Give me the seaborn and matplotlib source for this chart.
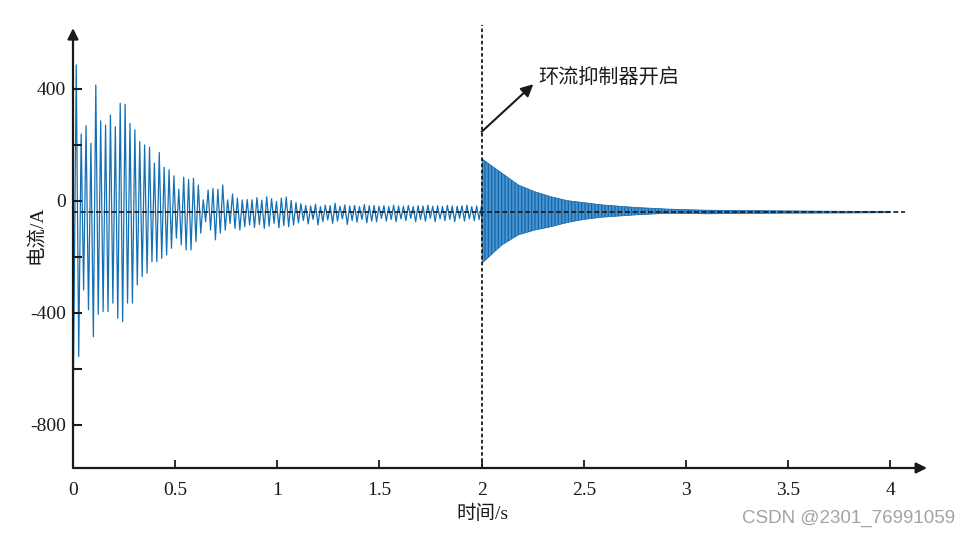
import numpy as np
import pandas as pd
import matplotlib
matplotlib.use('Agg')
import matplotlib.pyplot as plt
import seaborn as sns

# ============================================================
# Data (current in A, time in s)
# ============================================================

# before the circulating-current suppressor is switched on (t < 2 s)
i_start = -790          # value at t = 0
t_first_peak = 0.016    # time of first positive peak
period_a = 0.0239       # peak-to-peak spacing of the oscillation

peaks_a = [486, 239, 269, 206, 414, 286, 271, 307, 265, 349, 345, 277, 254,
           212, 200, 192, 135, 173, 120, 111, 90, 42, 85, 77, 81, 57, 4, 39,
           45, 42, 57, 4, 25, 10, 4, 5, 4,
           12, 3, 15, 8, -2, 10, 14, 2, -6,
           -10, -16, -18, -12, -20, -15, -17, -8, -19, -14, -18, -16, -20, -13, -17,
           -16, -19, -17, -20, -15, -18, -19, -16, -20, -17, -18, -15, -19, -17,
           -20, -16, -18, -19, -17, -15, -20, -18, -16]
troughs_a = [-556, -318, -389, -485, -405, -395, -395, -365, -419, -431, -365,
             -365, -300, -270, -258, -217, -217, -205, -193, -169, -133, -157,
             -175, -175, -145, -115, -74, -104, -139, -115, -104, -80, -98,
             -104, -92, -86,
             -95, -84, -98, -90, -80, -96, -88, -92, -86, -78,
             -70, -82, -66, -86, -74, -68, -80, -72, -64, -84, -70, -76, -66, -78, -72,
             -74, -62, -72, -66, -74, -64, -70, -62, -74, -66, -72, -62, -74, -64,
             -70, -66, -74, -62, -72, -64, -70, -66]

# after switch-on (t >= 2 s): envelope of the dense high-frequency oscillation
env_t = [2.0, 2.003, 2.05, 2.1, 2.18, 2.26, 2.34, 2.42, 2.5, 2.59, 2.75, 2.91, 3.1, 3.4, 3.8, 4.0]
env_hi = [-40, 150, 125, 99, 57, 33, 15, 1, -6, -14, -23, -29, -33, -35, -37, -37]
env_lo = [-40, -222, -190, -157, -121, -104, -92, -77, -66, -58, -50, -44, -46, -44, -43, -42]

t_switch = 2.0
i_offset = -40          # horizontal reference line
t_ref_end = 4.07

xticks = [0, 0.5, 1, 1.5, 2, 2.5, 3, 3.5, 4]
yticks = [-800, -600, -400, -200, 0, 200, 400]
ytick_labels = ['-800', '', '-400', '', '0', '', '400']

# ============================================================
# Build the trace of the first segment
# ============================================================

n_pairs = len(troughs_a)
t_up = t_first_peak + period_a * np.arange(len(peaks_a))
t_dn = t_up[:n_pairs] + period_a / 2
t_a = np.concatenate([[0.0], np.ravel(np.column_stack([t_up[:n_pairs], t_dn])), t_up[n_pairs:]])
i_a = np.concatenate([[i_start], np.ravel(np.column_stack([peaks_a[:n_pairs], troughs_a])), peaks_a[n_pairs:]])
df_a = pd.DataFrame({'time': t_a, 'current': i_a})

# ============================================================
# Plot
# ============================================================

sns.set_theme(style='white')
plt.rcParams['font.family'] = ['Liberation Serif', 'Noto Sans CJK SC', 'DejaVu Sans']
plt.rcParams['axes.unicode_minus'] = False
plt.rcParams['axes.axisbelow'] = False
plt.rcParams['xtick.bottom'] = True
plt.rcParams['ytick.left'] = True
plt.rcParams['hatch.linewidth'] = 0.8

blue = '#1470b4'

fig = plt.figure(figsize=(9.7, 5.37), dpi=100)
ax = fig.add_axes([73 / 970, 69 / 537, 854 / 970, 443.4 / 537])
ax.set_axisbelow(False)

sns.lineplot(data=df_a, x='time', y='current', ax=ax, color=blue, lw=0.9,
             estimator=None, sort=False)
# dense oscillation after switch-on: band with vertical striations
ax.fill_between(env_t, env_lo, env_hi, facecolor='#4a93cf', edgecolor='#0c64a9',
                hatch='|' * 5, lw=0.5)

# reference lines
ax.plot([0, t_ref_end], [i_offset, i_offset], color='k', lw=1.2, ls=(0, (3, 1.6)), zorder=5)
ax.axvline(t_switch, color='k', lw=1.3, ls=(0, (2, 1.4)), zorder=5)

ax.set_xlim(0, 4.18)
ax.set_ylim(-954, 630)

for s in ax.spines.values():
    s.set_visible(False)
# axes drawn as arrows
arrow_kw = dict(arrowstyle='-|>', color='k', lw=1.6, mutation_scale=16, shrinkA=0, shrinkB=0)
ax.annotate('', xy=(1, 0), xytext=(0, 0), xycoords='axes fraction', arrowprops=arrow_kw)
ax.annotate('', xy=(0, 0.992), xytext=(0, 0), xycoords='axes fraction', arrowprops=arrow_kw)

ax.set_xticks(xticks)
ax.set_xticklabels([f'{v:g}' for v in xticks])
ax.set_yticks(yticks)
ax.set_yticklabels(ytick_labels)
ax.tick_params(axis='x', bottom=True, direction='in', length=6, width=1.3,
               color='k', labelsize=14, labelcolor='k', pad=10)
ax.tick_params(axis='y', left=True, direction='in', length=6.5, width=1.5,
               color='k', labelsize=14, labelcolor='k', pad=5)
ax.yaxis.set_zorder(6)
ax.xaxis.set_zorder(6)

ax.set_xlabel('时间/s', fontsize=14, color='k')
ax.xaxis.set_label_coords(0.48, -0.082)
ax.set_ylabel('电流/A', fontsize=14, color='k')
ax.yaxis.set_label_coords(-0.033, 0.527)

# annotation
ax.annotate('', xy=(2.253, 417), xytext=(2.0, 247),
            arrowprops=dict(arrowstyle='-|>', color='k', lw=1.5, mutation_scale=18,
                            shrinkA=0, shrinkB=0))
ax.text(2.276, 439, '环流抑制器开启', fontsize=14.5, ha='left', va='center', color='k')

fig.text(742 / 970, 1 - 518 / 537, 'CSDN @2301_76991059', fontsize=13.5,
         family='Liberation Sans', color='#a3a3a3', ha='left', va='center')

plt.savefig('out.png', dpi=100)
plt.close()
